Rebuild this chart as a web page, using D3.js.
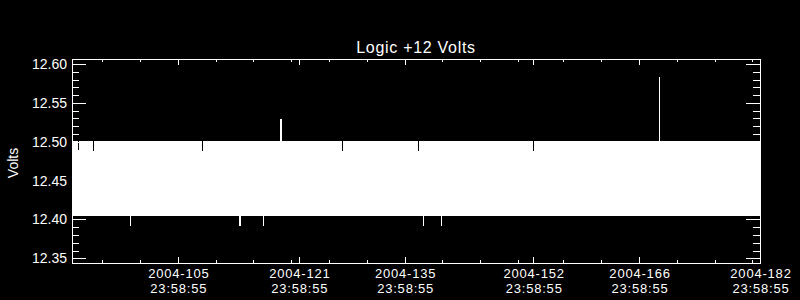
<!DOCTYPE html>
<html>
<head>
<meta charset="utf-8">
<script src="https://cdn.jsdelivr.net/npm/d3@7"></script>
<style>
  html, body { margin: 0; padding: 0; background: #000; }
  svg { display: block; }
  text { font-family: "Liberation Sans", Arial, sans-serif; fill: #fff; }
</style>
</head>
<body>
<svg id="chart"></svg>
<script>
// time = day of year 2004 + fraction of day
const timeStart = 91.9993;   // 2004-091 23:58:55
const timeEnd = 182.9993;    // 2004-182 23:58:55

const majorTickTimes = [105.9993, 121.9993, 135.9993, 152.9993, 166.9993, 182.9993];
const majorTickDays = ["2004-105", "2004-121", "2004-135", "2004-152", "2004-166", "2004-182"];
const majorTickClock = ["23:58:55", "23:58:55", "23:58:55", "23:58:55", "23:58:55", "23:58:55"];
const minorTickTimes = [96, 101, 111, 116, 121, 126, 131, 141, 146, 151, 157, 162, 172, 177, 182];

const yTickValues = [12.35, 12.40, 12.45, 12.50, 12.55, 12.60];
const yTickLabels = ["12.35", "12.40", "12.45", "12.50", "12.55", "12.60"];
const yMinorValues = [12.36, 12.37, 12.38, 12.39, 12.41, 12.42, 12.43, 12.44, 12.46, 12.47, 12.48, 12.49,
                      12.51, 12.52, 12.53, 12.54, 12.56, 12.57, 12.58, 12.59];

// the reading toggles between two levels all the time -> solid band
const bandLow = 12.405;
const bandHigh = 12.501;

// single readings above the band
const spikeUpTimes = [119.52, 119.66, 169.68];
const spikeUpValues = [12.529, 12.529, 12.583];

// single readings below the band
const spikeDownTimes = [99.71, 114.13, 114.26, 117.30, 138.46, 140.85];
const spikeDownValues = [12.391, 12.391, 12.391, 12.391, 12.391, 12.391];

// columns where the upper level was not reached
const dipTimes = [92.83, 94.82, 109.15, 127.75, 137.80, 153.01];
const dipValues = [12.488, 12.488, 12.488, 12.488, 12.488, 12.488];

const width = 800;
const height = 300;
const margin = { top: 59, right: 40, bottom: 37, left: 72 };

const svg = d3.select('#chart')
    .attr('width', width)
    .attr('height', height);

const x = d3.scaleLinear()
    .domain([timeStart, timeEnd])
    .range([margin.left, width - margin.right]);

const y = d3.scaleLinear()
    .domain([12.344, 12.6065])
    .range([height - margin.bottom, margin.top]);

const plot = svg.append('g').attr('shape-rendering', 'crispEdges');

// data band
plot.append('rect')
    .attr('x', x(timeStart))
    .attr('y', y(bandHigh))
    .attr('width', x(timeEnd) - x(timeStart))
    .attr('height', y(bandLow) - y(bandHigh))
    .attr('fill', '#fff');

plot.selectAll('.up')
    .data(spikeUpTimes)
    .enter().append('line')
    .attr('x1', d => Math.round(x(d)) + 0.5)
    .attr('x2', d => Math.round(x(d)) + 0.5)
    .attr('y1', y(bandHigh))
    .attr('y2', (d, i) => y(spikeUpValues[i]))
    .attr('stroke', '#fff');

plot.selectAll('.down')
    .data(spikeDownTimes)
    .enter().append('line')
    .attr('x1', d => Math.round(x(d)) + 0.5)
    .attr('x2', d => Math.round(x(d)) + 0.5)
    .attr('y1', y(bandLow))
    .attr('y2', (d, i) => y(spikeDownValues[i]))
    .attr('stroke', '#fff');

plot.selectAll('.dip')
    .data(dipTimes)
    .enter().append('line')
    .attr('x1', d => Math.round(x(d)) + 0.5)
    .attr('x2', d => Math.round(x(d)) + 0.5)
    .attr('y1', y(bandHigh))
    .attr('y2', (d, i) => y(dipValues[i]))
    .attr('stroke', '#000');

// ticks on all four sides, pointing inwards
const addAxis = (axis, transform) => {
    const g = plot.append('g')
        .attr('transform', transform)
        .attr('color', '#fff')
        .call(axis);
    g.select('.domain').remove();
    g.selectAll('text').remove();
};

const atBottom = `translate(0,${height - margin.bottom})`;
const atTop = `translate(0,${margin.top})`;
const atLeft = `translate(${margin.left},0)`;
const atRight = `translate(${width - margin.right},0)`;

addAxis(d3.axisBottom(x).tickValues(majorTickTimes).tickSize(-6), atBottom);
addAxis(d3.axisBottom(x).tickValues(minorTickTimes).tickSize(-3), atBottom);
addAxis(d3.axisTop(x).tickValues(majorTickTimes).tickSize(-6), atTop);
addAxis(d3.axisTop(x).tickValues(minorTickTimes).tickSize(-3), atTop);
addAxis(d3.axisLeft(y).tickValues(yTickValues).tickSize(-14), atLeft);
addAxis(d3.axisLeft(y).tickValues(yMinorValues).tickSize(-7), atLeft);
addAxis(d3.axisRight(y).tickValues(yTickValues).tickSize(-14), atRight);
addAxis(d3.axisRight(y).tickValues(yMinorValues).tickSize(-7), atRight);

// frame
plot.append('rect')
    .attr('x', margin.left + 0.5)
    .attr('y', margin.top + 0.5)
    .attr('width', width - margin.right - margin.left)
    .attr('height', height - margin.bottom - margin.top)
    .attr('fill', 'none')
    .attr('stroke', '#fff');

// labels
svg.selectAll('.ylab')
    .data(yTickValues)
    .enter().append('text')
    .attr('x', margin.left - 5)
    .attr('y', d => y(d) + 5)
    .attr('text-anchor', 'end')
    .style('font-size', '14px')
    .text((d, i) => yTickLabels[i]);

// two lines under each major tick: day, then clock time
svg.selectAll('.xday')
    .data(majorTickTimes)
    .enter().append('text')
    .attr('x', d => x(d) + 1)
    .attr('y', 277.5)
    .attr('text-anchor', 'middle')
    .style('font-size', '13px')
    .style('letter-spacing', '0.8px')
    .text((d, i) => majorTickDays[i]);

svg.selectAll('.xclock')
    .data(majorTickTimes)
    .enter().append('text')
    .attr('x', d => x(d) + 1)
    .attr('y', 292.5)
    .attr('text-anchor', 'middle')
    .style('font-size', '13px')
    .style('letter-spacing', '0.8px')
    .text((d, i) => majorTickClock[i]);

svg.append('text')
    .attr('x', (margin.left + width - margin.right) / 2)
    .attr('y', 52.5)
    .attr('text-anchor', 'middle')
    .style('font-size', '16px')
    .style('letter-spacing', '0.7px')
    .text('Logic +12 Volts');

svg.append('text')
    .attr('transform', `translate(18,${163}) rotate(-90)`)
    .attr('text-anchor', 'middle')
    .style('font-size', '14px')
    .text('Volts');
</script>
</body>
</html>
